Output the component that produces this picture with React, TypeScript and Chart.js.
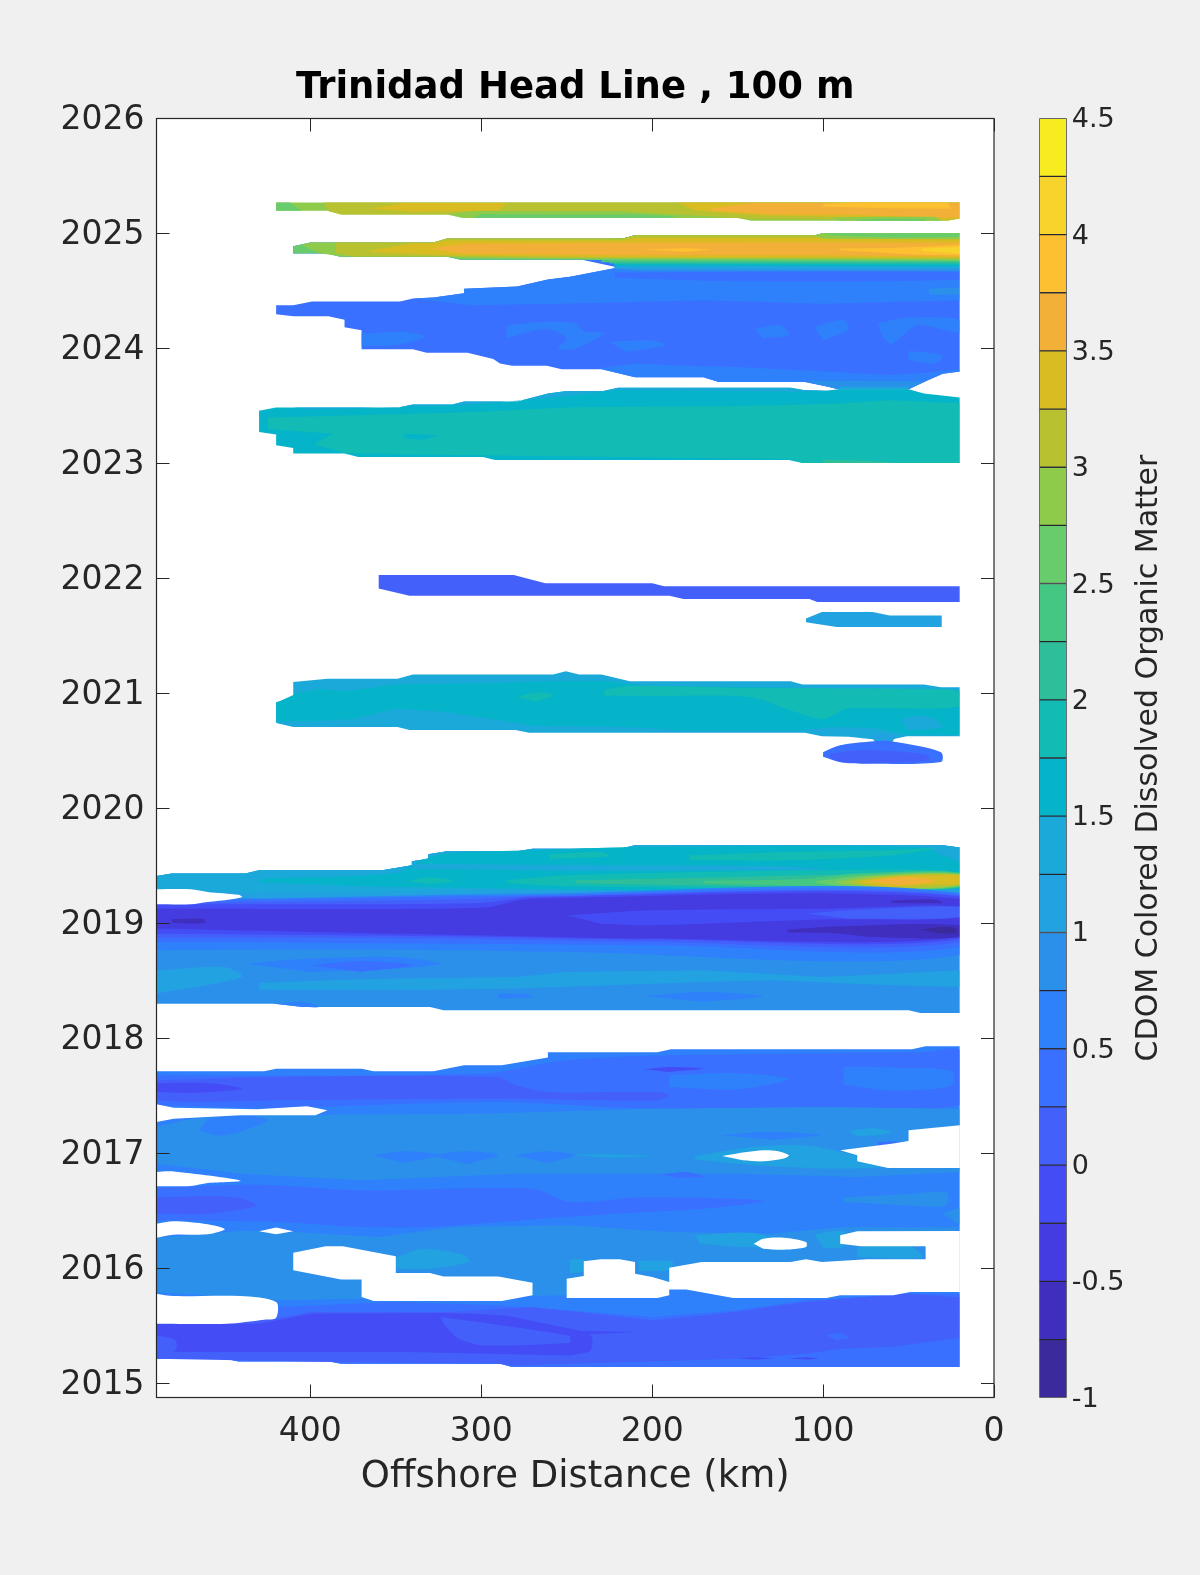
import React, { useEffect, useRef } from "react";
import { Chart, registerables } from "chart.js";

Chart.register(...registerables);

const titleText = "Trinidad Head Line , 100 m";
const xLabel = "Offshore Distance (km)";
const cbLabel = "CDOM Colored Dissolved Organic Matter";
const yearTicks = [2015, 2016, 2017, 2018, 2019, 2020, 2021, 2022, 2023, 2024, 2025, 2026];
const kmTicks = [400, 300, 200, 100, 0];
const cbTicks = [-1, -0.5, 0, 0.5, 1, 1.5, 2, 2.5, 3, 3.5, 4, 4.5];
const levelEdges = [-1, -0.75, -0.5, -0.25, 0, 0.25, 0.5, 0.75, 1, 1.25, 1.5, 1.75, 2, 2.25, 2.5, 2.75, 3, 3.25, 3.5, 3.75, 4, 4.25, 4.5];
const levelColors = ["#3b2a9c", "#402fbe", "#443be0", "#444df5", "#4360fb", "#3a70ff", "#2f80fb", "#2b90ea", "#22a2e0", "#1ba9d9", "#05b4c8", "#12bbb4", "#2ebe9a", "#43c783", "#68cc6c", "#8fcb4b", "#b8c231", "#d9bb22", "#f3b038", "#fdc030", "#f6d42b", "#f6ec20"];
const HOLE = 99;

type Region = [number, number[]];

const bandBTop = [410, 2024.89, 400, 2024.922, 328, 2024.922, 320, 2024.957, 217, 2024.957, 210, 2024.986, 104.5, 2024.986, 100, 2025.003, 20, 2025.003];
const bandBRightTop = [222, 2024.957, 217, 2024.957, 210, 2024.986, 104.5, 2024.986, 100, 2025.003, 20, 2025.003];

const band2025Upper: Region[] = [
  [2.75, [420, 2025.27, 20, 2025.27, 20, 2025.13, 27, 2025.11, 142, 2025.11, 150, 2025.136, 311, 2025.136, 320, 2025.165, 382, 2025.165, 390, 2025.197, 420, 2025.197]],
  [2.5, [420, 2025.27, 412, 2025.27, 405, 2025.197, 420, 2025.197]],
  [3, [392, 2025.27, 20, 2025.27, 20, 2025.135, 27, 2025.125, 100, 2025.125, 142, 2025.125, 150, 2025.135, 190, 2025.17, 220, 2025.195, 305, 2025.195, 320, 2025.165, 382, 2025.165, 390, 2025.197]],
  [3.25, [365, 2025.215, 345, 2025.265, 285, 2025.265, 290, 2025.2, 340, 2025.19]],
  [3.25, [185, 2025.27, 20, 2025.27, 20, 2025.13, 27, 2025.115, 80, 2025.14, 140, 2025.16, 175, 2025.2]],
  [3.5, [165, 2025.22, 140, 2025.265, 20, 2025.265, 20, 2025.14, 30, 2025.14, 90, 2025.165, 130, 2025.165, 165, 2025.2]],
  [3.75, [100, 2025.255, 85, 2025.27, 27, 2025.27, 25, 2025.215, 60, 2025.22, 100, 2025.235]],
  [2.5, [300, 2025.17, 250, 2025.165, 210, 2025.165, 185, 2025.15, 192, 2025.136, 305, 2025.136]],
  [2.75, [95, 2025.14, 70, 2025.145, 35, 2025.145, 30, 2025.11, 90, 2025.11]],
  [2.5, [80, 2025.12, 60, 2025.13, 40, 2025.125, 40, 2025.11, 80, 2025.11]],
];

const blob2024: Region[] = [
  [0.25, [...bandBTop, 20, 2023.8, 30, 2023.78, 41, 2023.71, 50, 2023.645, 91, 2023.645, 97, 2023.667, 110.5, 2023.71, 161, 2023.71, 170, 2023.75, 210, 2023.75, 229.5, 2023.82, 253, 2023.82, 261.6, 2023.85, 282, 2023.85, 289, 2023.87, 293, 2023.91, 308, 2023.963, 332, 2023.963, 340, 2023.993, 370, 2023.993, 370, 2024.16, 380, 2024.185, 380, 2024.25, 389.5, 2024.28, 410, 2024.28, 420, 2024.298, 420, 2024.376, 410, 2024.376, 399, 2024.41, 347.5, 2024.41, 340, 2024.435, 328, 2024.443, 310, 2024.48, 310, 2024.52, 279, 2024.54, 261, 2024.6, 248, 2024.625, 220, 2024.704, 241, 2024.771, 312, 2024.771, 320, 2024.797, 382.5, 2024.797, 390, 2024.826, 410, 2024.826]],
  [0.5, [340, 2024.435, 328, 2024.443, 310, 2024.48, 310, 2024.52, 279, 2024.54, 261, 2024.6, 248, 2024.625, 220, 2024.704, 200, 2024.72, 20, 2024.72, 20, 2024.42, 100, 2024.39, 170, 2024.42, 248, 2024.391, 305, 2024.377]],
  [0.25, [222, 2024.66, 20, 2024.667, 20, 2024.6, 150, 2024.585, 222, 2024.615]],
  [0.5, [370, 2024.13, 345, 2024.145, 333, 2024.1, 350, 2024.03, 370, 2024.02]],
  [0.5, [285, 2024.2, 265, 2024.23, 245, 2024.22, 240, 2024.15, 228, 2024.13, 245, 2024.0, 255, 2024.0, 250, 2024.09, 262, 2024.17, 285, 2024.09]],
  [0.5, [225, 2024.06, 200, 2024.07, 192, 2024.03, 215, 2023.97]],
  [0.5, [140, 2024.17, 125, 2024.2, 120, 2024.12, 135, 2024.09]],
  [0.5, [105, 2024.19, 88, 2024.25, 85, 2024.17, 100, 2024.07]],
  [0.5, [68, 2024.22, 50, 2024.27, 20, 2024.25, 20, 2024.14, 45, 2024.2, 60, 2024.04, 65, 2024.1]],
  [0.5, [50, 2023.98, 30, 2023.94, 35, 2023.87, 50, 2023.9]],
  [0.75, [38, 2024.52, 20, 2024.53, 20, 2024.47, 38, 2024.47]],
  [0.5, [230, 2023.83, 210, 2023.87, 180, 2023.85, 150, 2023.84, 100, 2023.8, 60, 2023.77, 40, 2023.79, 20, 2023.82, 20, 2023.8, 30, 2023.78, 41, 2023.71, 50, 2023.645, 91, 2023.645, 97, 2023.667, 110.5, 2023.71, 161, 2023.71, 170, 2023.75, 210, 2023.75, 229.5, 2023.82]],
  [0.75, [110, 2023.715, 80, 2023.72, 48, 2023.715, 41, 2023.71, 50, 2023.645, 91, 2023.645, 97, 2023.667]],
  [1, [90, 2023.67, 50, 2023.67, 50, 2023.645, 91, 2023.645]],
  [1.25, [88, 2023.655, 52, 2023.655, 50, 2023.645, 91, 2023.645]],
  [0.75, [...bandBRightTop, 20, 2024.672, 205, 2024.672, 222, 2024.69]],
  [1, [...bandBRightTop, 20, 2024.69, 210, 2024.69, 222, 2024.7]],
  [1.25, [...bandBRightTop, 20, 2024.704, 222, 2024.708]],
  [1.5, [...bandBRightTop, 20, 2024.716, 222, 2024.72]],
  [1.75, [...bandBRightTop, 20, 2024.728, 222, 2024.73]],
  [2, [...bandBRightTop, 20, 2024.739, 225, 2024.74]],
  [2.25, [...bandBRightTop, 20, 2024.75, 230, 2024.75]],
  [2.5, [...bandBTop, 20, 2024.762, 220, 2024.765, 241, 2024.771, 312, 2024.771, 320, 2024.797, 382.5, 2024.797, 390, 2024.826, 410, 2024.826]],
  [2.75, [405, 2024.9, 400, 2024.922, 328, 2024.922, 320, 2024.957, 217, 2024.957, 210, 2024.986, 104.5, 2024.986, 100, 2025.003, 20, 2025.003, 20, 2024.77, 220, 2024.78, 312, 2024.785, 320, 2024.8, 382, 2024.8, 395, 2024.83]],
  [3, [385, 2024.922, 328, 2024.922, 320, 2024.957, 217, 2024.957, 210, 2024.986, 104.5, 2024.986, 100, 2025.003, 20, 2025.003, 20, 2024.78, 250, 2024.785, 320, 2024.8, 375, 2024.8, 385, 2024.83]],
  [3.25, [365, 2024.85, 340, 2024.915, 328, 2024.915, 320, 2024.94, 217, 2024.94, 210, 2024.96, 100, 2024.96, 20, 2024.95, 20, 2024.79, 240, 2024.795, 320, 2024.81, 365, 2024.84]],
  [3.5, [330, 2024.87, 310, 2024.91, 217, 2024.92, 100, 2024.925, 20, 2024.92, 20, 2024.8, 100, 2024.81, 220, 2024.81, 310, 2024.825]],
  [3.75, [205, 2024.86, 180, 2024.875, 165, 2024.86, 180, 2024.84]],
  [3.75, [90, 2024.87, 60, 2024.875, 20, 2024.9, 20, 2024.81, 50, 2024.82, 90, 2024.855]],
  [4, [42, 2024.87, 20, 2024.885, 20, 2024.825, 42, 2024.85]],
  [2.75, [104.5, 2024.986, 100, 2025.003, 20, 2025.003, 20, 2024.95, 100, 2024.955]],
  [2.5, [100, 2025.003, 20, 2025.003, 20, 2024.97, 60, 2024.965, 95, 2024.985]],
];

const band2023: Region[] = [
  [1.5, [430, 2023.46, 420, 2023.487, 348.6, 2023.487, 340, 2023.513, 317, 2023.513, 310, 2023.54, 279, 2023.54, 261, 2023.61, 250, 2023.63, 228.6, 2023.63, 220, 2023.66, 119, 2023.66, 111.5, 2023.64, 98, 2023.632, 91, 2023.645, 50, 2023.645, 41, 2023.609, 20, 2023.574, 20, 2023.005, 112, 2023.005, 120, 2023.03, 292, 2023.03, 299, 2023.058, 372, 2023.058, 380, 2023.087, 410, 2023.087, 410, 2023.135, 420, 2023.16, 420, 2023.252, 430, 2023.275]],
  [1.25, [410, 2023.487, 349, 2023.487, 340, 2023.513, 317, 2023.513, 310, 2023.54, 279, 2023.54, 261, 2023.61, 250, 2023.63, 228.6, 2023.63, 220, 2023.66, 119, 2023.66, 111.5, 2023.64, 98, 2023.632, 90, 2023.63, 120, 2023.625, 220, 2023.64, 260, 2023.57, 310, 2023.51, 400, 2023.47]],
  [1.75, [425, 2023.4, 345, 2023.43, 300, 2023.45, 248, 2023.49, 150, 2023.5, 92, 2023.52, 60, 2023.55, 20, 2023.525, 20, 2023.005, 112, 2023.005, 120, 2023.04, 293, 2023.07, 379, 2023.09, 398, 2023.17, 387, 2023.26, 425, 2023.3]],
  [1.5, [345, 2023.26, 325, 2023.245, 335, 2023.205, 345, 2023.225]],
  [2, [100, 2023.035, 75, 2023.025, 55, 2023.005, 100, 2023.005]],
];

const band2022: Region[] = [
  [0, [360, 2022.03, 281, 2022.03, 262.5, 2021.96, 200, 2021.96, 193, 2021.933, 20, 2021.933, 20, 2021.797, 103.4, 2021.797, 108, 2021.823, 181.6, 2021.823, 190, 2021.85, 342, 2021.85, 360, 2021.913]],
  [1, [110, 2021.652, 100.7, 2021.71, 71, 2021.71, 61, 2021.68, 30.6, 2021.68, 30.6, 2021.58, 92, 2021.58, 110, 2021.62]],
];

const band2021: Region[] = [
  [1.25, [420, 2020.927, 410, 2020.948, 410, 2021.1, 390, 2021.13, 349, 2021.13, 340, 2021.165, 258, 2021.165, 250.5, 2021.194, 242.7, 2021.165, 229.7, 2021.165, 213, 2021.107, 119, 2021.107, 112, 2021.078, 41, 2021.078, 31, 2021.055, 20, 2021.055, 20, 2020.63, 51, 2020.63, 60, 2020.6, 70, 2020.6, 85, 2020.625, 100.7, 2020.63, 110.6, 2020.66, 272, 2020.66, 280, 2020.684, 342, 2020.684, 349, 2020.71, 410, 2020.71, 420, 2020.745]],
  [1.5, [420, 2020.76, 420, 2020.92, 408, 2021, 395, 2021.04, 380, 2021.02, 350, 2021.08, 300, 2021.09, 255, 2021.11, 225, 2021.11, 205, 2021.07, 119, 2021.05, 112, 2021.03, 20, 2021.02, 20, 2020.64, 51, 2020.64, 70, 2020.7, 95, 2020.71, 115, 2020.68, 180, 2020.68, 215, 2020.71, 270, 2020.72, 285, 2020.76, 320, 2020.84, 350, 2020.87, 375, 2020.78, 400, 2020.76]],
  [1.25, [55, 2020.77, 45, 2020.81, 35, 2020.78, 30, 2020.71, 50, 2020.68]],
  [1.75, [228, 2021.03, 214, 2021.065, 143, 2021.05, 44, 2021.04, 20, 2021.015, 20, 2020.885, 86, 2020.87, 100, 2020.78, 120, 2020.86, 143, 2020.97, 200, 2020.98, 228, 2020.98]],
  [1.75, [279, 2020.97, 268, 2021.01, 258, 2020.985, 268, 2020.93]],
  [1, [72, 2020.64, 58, 2020.64, 61, 2020.56, 69, 2020.56]],
  [0.25, [100, 2020.49, 90, 2020.55, 70, 2020.585, 60, 2020.585, 31, 2020.49, 31, 2020.405, 75, 2020.39, 89, 2020.4, 100, 2020.45]],
  [0, [96, 2020.48, 75, 2020.51, 40, 2020.47, 38, 2020.42, 75, 2020.395, 89, 2020.405, 96, 2020.44]],
];

const fullBand2019: Region[] = [
  [0.75, [490, 2019.414, 481, 2019.435, 438, 2019.435, 430, 2019.464, 358, 2019.464, 340.6, 2019.507, 340.6, 2019.542, 331, 2019.565, 331, 2019.603, 320, 2019.629, 279, 2019.629, 270, 2019.652, 219, 2019.652, 210, 2019.681, 30, 2019.681, 20, 2019.661, 20, 2018.223, 43, 2018.223, 50, 2018.246, 322, 2018.246, 330, 2018.275, 404, 2018.275, 421.7, 2018.304, 490, 2018.304]],
  [1, [490, 2019.414, 481, 2019.435, 438, 2019.435, 430, 2019.464, 358, 2019.464, 340.6, 2019.507, 340.6, 2019.542, 331, 2019.565, 331, 2019.603, 320, 2019.629, 279, 2019.629, 270, 2019.652, 219, 2019.652, 210, 2019.681, 30, 2019.681, 20, 2019.661, 20, 2019.272, 280, 2019.262, 340, 2019.246, 430, 2019.22, 490, 2019.26]],
  [1.25, [490, 2019.414, 481, 2019.435, 438, 2019.435, 430, 2019.464, 358, 2019.464, 340.6, 2019.507, 340.6, 2019.542, 331, 2019.565, 331, 2019.603, 320, 2019.629, 279, 2019.629, 270, 2019.652, 219, 2019.652, 210, 2019.681, 30, 2019.681, 20, 2019.661, 20, 2019.296, 280, 2019.29, 340, 2019.28, 430, 2019.27, 490, 2019.29]],
  [1.5, [430, 2019.39, 350, 2019.44, 335, 2019.55, 320, 2019.61, 270, 2019.638, 210, 2019.667, 43, 2019.667, 30, 2019.594, 20, 2019.522, 20, 2019.304, 350, 2019.319, 430, 2019.36]],
  [1.25, [340, 2019.52, 250, 2019.51, 130, 2019.5, 100, 2019.47, 240, 2019.46, 340, 2019.475]],
  [1.75, [178, 2019.594, 120, 2019.623, 60, 2019.638, 33, 2019.661, 60, 2019.594, 120, 2019.55, 178, 2019.551]],
  [1.75, [260, 2019.603, 230, 2019.623, 225, 2019.586, 260, 2019.565]],
  [1.75, [343, 2019.37, 330, 2019.4, 316, 2019.37, 330, 2019.345]],
  [1.75, [285, 2019.377, 250, 2019.42, 100, 2019.464, 20, 2019.449, 20, 2019.313, 100, 2019.304, 250, 2019.325, 285, 2019.354]],
  [2, [245, 2019.377, 150, 2019.406, 60, 2019.435, 20, 2019.441, 20, 2019.319, 60, 2019.304, 150, 2019.325, 245, 2019.348]],
  [2.25, [170, 2019.371, 110, 2019.391, 80, 2019.435, 20, 2019.441, 20, 2019.319, 80, 2019.304, 110, 2019.325, 170, 2019.348]],
  [2.5, [104, 2019.368, 75, 2019.42, 20, 2019.435, 20, 2019.325, 75, 2019.304, 104, 2019.354]],
  [2.75, [92, 2019.368, 70, 2019.414, 20, 2019.43, 20, 2019.33, 70, 2019.31, 92, 2019.354]],
  [3, [84, 2019.368, 65, 2019.41, 20, 2019.425, 20, 2019.336, 65, 2019.313, 84, 2019.354]],
  [3.25, [78, 2019.368, 60, 2019.406, 35, 2019.42, 20, 2019.414, 20, 2019.348, 35, 2019.342, 60, 2019.325, 78, 2019.354]],
  [3.5, [74, 2019.368, 55, 2019.406, 36, 2019.386, 36, 2019.362, 55, 2019.333]],
  [0.5, [490, 2019.217, 430, 2019.217, 280, 2019.255, 20, 2019.267, 20, 2018.725, 250, 2018.754, 320, 2018.768, 400, 2018.774, 490, 2018.768]],
  [0.25, [490, 2019.203, 430, 2019.209, 280, 2019.243, 20, 2019.255, 20, 2018.797, 200, 2018.812, 320, 2018.826, 490, 2018.841]],
  [0, [490, 2019.188, 430, 2019.188, 300, 2019.217, 270, 2019.238, 20, 2019.246, 20, 2018.841, 200, 2018.841, 320, 2018.87, 490, 2018.878]],
  [-0.25, [490, 2019.168, 430, 2019.168, 300, 2019.18, 270, 2019.232, 20, 2019.238, 20, 2018.867, 200, 2018.861, 320, 2018.89, 490, 2018.913]],
  [-0.5, [490, 2019.13, 300, 2019.139, 270, 2019.217, 20, 2019.217, 20, 2018.884, 200, 2018.87, 300, 2018.899, 400, 2018.928, 490, 2018.957]],
  [-0.25, [250, 2019.072, 200, 2019.116, 100, 2019.13, 20, 2019.151, 20, 2019.052, 100, 2019.035, 200, 2018.986, 230, 2019]],
  [0, [110, 2019.087, 85, 2019.116, 20, 2019.145, 20, 2019.058, 85, 2019.043]],
  [-0.75, [121, 2018.948, 90, 2018.977, 20, 2018.986, 20, 2018.884, 70, 2018.884, 90, 2018.913, 121, 2018.922]],
  [-0.75, [60, 2019.2, 35, 2019.21, 30, 2019.18, 60, 2019.18]],
  [-0.75, [481, 2019.04, 462, 2019.04, 462, 2019.005, 481, 2019.005]],
  [-1, [43, 2018.948, 30, 2018.971, 22, 2018.957, 22, 2018.919, 30, 2018.913]],
  [1, [490, 2018.594, 450, 2018.623, 440, 2018.536, 490, 2018.391]],
  [1, [430, 2018.484, 390, 2018.507, 350, 2018.522, 280, 2018.536, 250, 2018.58, 170, 2018.594, 100, 2018.536, 60, 2018.565, 20, 2018.594, 20, 2018.449, 60, 2018.464, 130, 2018.507, 170, 2018.493, 280, 2018.435, 350, 2018.42, 430, 2018.426]],
  [0.5, [437, 2018.652, 400, 2018.696, 350, 2018.71, 324, 2018.652, 350, 2018.609, 400, 2018.58]],
  [0.25, [400, 2018.638, 370, 2018.675, 340, 2018.638, 370, 2018.58]],
  [0.5, [205, 2018.371, 170, 2018.406, 135, 2018.368, 170, 2018.319]],
  [0.5, [420, 2018.304, 403, 2018.319, 395, 2018.275, 405, 2018.275]],
  [0.5, [290, 2018.39, 275, 2018.39, 270, 2018.36, 290, 2018.35]],
  [HOLE, [490, 2019.299, 470, 2019.299, 460, 2019.275, 442, 2019.25, 440, 2019.232, 447, 2019.21, 460, 2019.188, 470, 2019.168, 490, 2019.168]],
];

const band2017Upper: Region[] = [
  [0.5, [490, 2017.716, 427, 2017.716, 420, 2017.739, 370, 2017.739, 363, 2017.716, 328, 2017.716, 310, 2017.768, 288, 2017.768, 261, 2017.835, 261, 2017.881, 197, 2017.881, 189, 2017.907, 48, 2017.907, 40, 2017.933, 20, 2017.933, 20, 2015.145, 282, 2015.145, 289, 2015.174, 382, 2015.174, 389, 2015.194, 442, 2015.194, 450, 2015.217, 490, 2015.217]],
  [0.25, [490, 2017.68, 300, 2017.696, 250, 2017.812, 190, 2017.855, 40, 2017.884, 20, 2017.899, 20, 2017.42, 200, 2017.391, 290, 2017.449, 420, 2017.4, 490, 2017.42]],
  [0.5, [88, 2017.754, 60, 2017.75, 25, 2017.72, 25, 2017.59, 60, 2017.55, 88, 2017.6]],
  [0.5, [190, 2017.68, 150, 2017.7, 120, 2017.65, 150, 2017.56, 190, 2017.58]],
  [0, [490, 2017.638, 420, 2017.667, 290, 2017.667, 280, 2017.594, 260, 2017.536, 196, 2017.536, 190, 2017.507, 197, 2017.464, 290, 2017.478, 420, 2017.464, 470, 2017.449, 490, 2017.464]],
  [-0.25, [490, 2017.614, 460, 2017.614, 440, 2017.565, 470, 2017.528, 490, 2017.536]],
  [-0.25, [205, 2017.733, 190, 2017.754, 170, 2017.74, 190, 2017.71]],
  [0.25, [38, 2017.52, 25, 2017.5, 25, 2017.45, 60, 2017.44, 70, 2017.5]],
];

const band2017Middle: Region[] = [
  [0.75, [490, 2017.232, 470, 2017.304, 440, 2017.333, 300, 2017.348, 200, 2017.391, 100, 2017.406, 20, 2017.391, 20, 2016.841, 80, 2016.797, 150, 2016.826, 280, 2016.826, 370, 2016.768, 440, 2016.826, 490, 2016.913]],
  [0.5, [460, 2017.304, 440, 2017.333, 425, 2017.29, 450, 2017.159, 465, 2017.2]],
  [0.5, [364, 2016.986, 345, 2017.02, 325, 2016.986, 345, 2016.92]],
  [0.5, [330, 2016.986, 308, 2017.02, 290, 2016.986, 308, 2016.91]],
  [0.5, [280, 2016.986, 262, 2017.02, 245, 2016.986, 262, 2016.92]],
  [0.5, [160, 2017.16, 130, 2017.19, 102, 2017.16, 130, 2017.12]],
  [1, [175, 2016.98, 140, 2017.06, 110, 2017.07, 85, 2017.0, 62, 2016.9, 90, 2016.87, 140, 2016.9, 175, 2016.95]],
  [1, [248, 2016.99, 225, 2016.995, 200, 2016.98, 225, 2016.965]],
  [1, [85, 2017.2, 70, 2017.22, 60, 2017.18, 80, 2017.15]],
  [0.25, [68, 2017.1, 55, 2017.1, 55, 2017.04, 68, 2017.06]],
  [0.25, [195, 2016.82, 180, 2016.84, 170, 2016.8, 185, 2016.79]],
  [0.5, [490, 2016.85, 440, 2016.74, 300, 2016.7, 200, 2016.65, 100, 2016.63, 88, 2016.6, 40, 2016.5, 20, 2016.4, 300, 2016.38, 490, 2016.3]],
  [0.75, [88, 2016.62, 50, 2016.65, 28, 2016.66, 28, 2016.55, 50, 2016.55, 88, 2016.58]],
  [0.75, [30, 2016.48, 20, 2016.52, 20, 2016.38]],
  [0.25, [490, 2016.704, 430, 2016.729, 370, 2016.681, 270, 2016.696, 248, 2016.58, 205, 2016.62, 135, 2016.59, 170, 2016.52, 230, 2016.47, 330, 2016.362, 370, 2016.362, 420, 2016.406, 490, 2016.42]],
  [0, [490, 2016.623, 445, 2016.623, 432, 2016.55, 460, 2016.478, 490, 2016.478]],
  [0.75, [490, 2016.27, 440, 2016.33, 410, 2016.319, 360, 2016.275, 315, 2016.362, 248, 2016.377, 190, 2016.319, 130, 2016.304, 90, 2016.36, 20, 2016.36, 40, 2016.08, 100, 2016.058, 190, 2015.884, 210, 2015.82, 250, 2015.768, 370, 2015.739, 420, 2015.725, 490, 2015.797]],
  [1, [351, 2016.09, 335, 2016.17, 310, 2016.12, 307, 2016.06, 330, 2016.0, 350, 2016.0]],
  [1, [248, 2016.08, 240, 2016.08, 240, 2015.98, 248, 2015.96]],
  [1, [208, 2016.07, 188, 2016.06, 190, 2015.99, 208, 2015.98]],
  [1, [175, 2016.29, 140, 2016.31, 120, 2016.2, 150, 2016.19, 172, 2016.22]],
  [1, [105, 2016.3, 88, 2016.32, 88, 2016.19, 100, 2016.18]],
  [1, [80, 2016.19, 50, 2016.2, 42, 2016.1, 80, 2016.1]],
];

const band2015: Region[] = [
  [0.25, [420, 2015.667, 350, 2015.71, 290, 2015.681, 250, 2015.638, 200, 2015.58, 150, 2015.638, 110, 2015.725, 90, 2015.739, 50, 2015.783, 20, 2015.783, 20, 2015.145, 282, 2015.145, 289, 2015.174, 382, 2015.174, 389, 2015.194, 442, 2015.194, 450, 2015.217, 490, 2015.217, 490, 2015.551]],
  [0, [490, 2015.551, 420, 2015.565, 400, 2015.623, 320, 2015.623, 270, 2015.667, 200, 2015.551, 160, 2015.609, 110, 2015.71, 90, 2015.739, 50, 2015.783, 20, 2015.75, 20, 2015.377, 60, 2015.32, 90, 2015.304, 110, 2015.261, 150, 2015.217, 282, 2015.159, 289, 2015.174, 382, 2015.188, 442, 2015.203, 490, 2015.217]],
  [0.25, [20, 2015.4, 55, 2015.33, 75, 2015.28, 150, 2015.2, 100, 2015.2, 20, 2015.16]],
  [-0.25, [490, 2015.522, 430, 2015.522, 400, 2015.609, 324, 2015.614, 304, 2015.609, 285, 2015.59, 242, 2015.46, 209, 2015.45, 236, 2015.43, 248, 2015.42, 236, 2015.28, 248, 2015.246, 344, 2015.275, 480, 2015.275, 479, 2015.377, 490, 2015.42]],
  [0, [324, 2015.58, 304, 2015.54, 242, 2015.4, 242, 2015.362, 298, 2015.333, 313, 2015.391, 322, 2015.52]],
  [-0.25, [248, 2015.42, 236, 2015.42, 236, 2015.29, 248, 2015.25]],
  [0, [490, 2015.42, 479, 2015.38, 479, 2015.29, 490, 2015.26]],
  [0.25, [98, 2015.42, 90, 2015.44, 85, 2015.4, 92, 2015.38]],
  [-0.25, [150, 2015.22, 140, 2015.23, 130, 2015.22, 140, 2015.21]],
  [-0.25, [120, 2015.22, 110, 2015.23, 103, 2015.22, 110, 2015.21]],
];

const dataHoles: Region[] = [
  [HOLE, [490, 2017.429, 480, 2017.4, 431, 2017.386, 402, 2017.412, 390, 2017.377, 397, 2017.333, 441, 2017.333, 480, 2017.304, 490, 2017.275]],
  [HOLE, [490, 2016.841, 481, 2016.846, 441, 2016.765, 460, 2016.745, 470, 2016.719, 490, 2016.716]],
  [HOLE, [490, 2016.391, 480, 2016.412, 460, 2016.386, 450, 2016.342, 460, 2016.299, 480, 2016.296, 490, 2016.27]],
  [HOLE, [430, 2016.325, 420, 2016.357, 410, 2016.325, 420, 2016.299]],
  [HOLE, [490, 2015.783, 480, 2015.762, 441, 2015.762, 420, 2015.71, 420, 2015.574, 427, 2015.557, 449, 2015.522, 490, 2015.522]],
  [HOLE, [410, 2016.139, 391, 2016.194, 381, 2016.194, 350, 2016.107, 350, 2015.962, 330, 2015.962, 322, 2015.933, 290, 2015.933, 270, 2015.878, 270, 2015.768, 288, 2015.719, 363, 2015.719, 370, 2015.754, 370, 2015.907, 382, 2015.907, 410, 2015.986]],
  [HOLE, [20, 2016.328, 80, 2016.325, 90, 2016.29, 90, 2016.217, 78, 2016.194, 40, 2016.194, 40, 2016.081, 74, 2016.081, 100.7, 2016.058, 110, 2016.081, 119, 2016.058, 171, 2016.058, 190, 2016.009, 190, 2015.884, 200, 2015.928, 210, 2015.957, 210, 2016.058, 219, 2016.081, 230, 2016.081, 240, 2016.064, 240, 2015.936, 250, 2015.913, 250, 2015.745, 197, 2015.745, 190, 2015.768, 190, 2015.82, 180, 2015.82, 152.6, 2015.745, 98, 2015.745, 90, 2015.768, 59, 2015.768, 49, 2015.797, 20, 2015.797]],
  [HOLE, [20, 2017.246, 50, 2017.203, 50, 2017.11, 60, 2017.087, 90, 2017.029, 80, 2016.986, 80, 2016.933, 62, 2016.875, 20, 2016.875]],
  [HOLE, [159, 2016.98, 144.6, 2017.014, 135, 2017.029, 127, 2017.023, 120, 2016.986, 123, 2016.957, 135, 2016.933, 147, 2016.942]],
  [HOLE, [140.6, 2016.217, 135, 2016.261, 123, 2016.27, 110, 2016.232, 110, 2016.188, 123, 2016.165, 135, 2016.174]],
  [HOLE, [0, 2014.88, 20, 2014.88, 20, 2026, 0, 2026]],
];

const regionGroups = [band2025Upper, blob2024, band2023, band2022, band2021, fullBand2019, band2017Upper, band2017Middle, band2015, dataHoles];
const softGroups = [band2021, fullBand2019, band2017Upper, band2017Middle, band2015];

const FONT = "'DejaVu Sans'";
const INK = "#262626";

function colorOf(level: number) {
  if (level === HOLE) return "#ffffff";
  return levelColors[levelEdges.indexOf(level)];
}

function curveOf(group: Region[], region: Region) {
  const [level, flat] = region;
  const count = flat.length / 2;
  if (softGroups.includes(group) && group[0] !== region && count <= 14) return 0.3;
  if (group === blob2024 && group[0] !== region && level <= 0.5 && count <= 10) return 0.3;
  if (group === dataHoles && count <= 8 && count > 4) return 0.3;
  return 0;
}

const regions = regionGroups.flatMap((group) => group.map((region) => ({ region, tension: curveOf(group, region) })));
const polygonSets = regions.map(({ region: [level, flat], tension }, i) => {
  const data: { x: number; y: number }[] = [];
  for (let k = 0; k < flat.length; k += 2) data.push({ x: flat[k], y: flat[k + 1] });
  return {
    label: "L" + level,
    data,
    showLine: true,
    fill: "shape",
    borderWidth: 0,
    pointRadius: 0,
    tension,
    backgroundColor: colorOf(level),
    order: regions.length - i,
  };
});

const framePlugin = {
  id: "frame",
  beforeDraw(chart: any) {
    const a = chart.chartArea;
    chart.ctx.save();
    chart.ctx.fillStyle = "#ffffff";
    chart.ctx.fillRect(a.left, a.top, a.width, a.height);
    chart.ctx.restore();
  },
  afterDraw(chart: any) {
    const a = chart.chartArea;
    const c = chart.ctx;
    const len = 13;
    c.save();
    c.strokeStyle = INK;
    c.lineWidth = 1;
    c.beginPath();
    for (const t of yearTicks) {
      const y = Math.floor(chart.scales.y.getPixelForValue(t)) + 0.5;
      c.moveTo(a.left, y);
      c.lineTo(a.left + len, y);
      c.moveTo(a.right, y);
      c.lineTo(a.right - len, y);
    }
    for (const t of kmTicks) {
      const x = Math.floor(chart.scales.x.getPixelForValue(t)) + 0.5;
      c.moveTo(x, a.bottom);
      c.lineTo(x, a.bottom - len);
      c.moveTo(x, a.top);
      c.lineTo(x, a.top + len);
    }
    c.stroke();
    c.lineWidth = 1.2;
    c.strokeRect(a.left, a.top, a.width, a.height);
    c.restore();
  },
};

const cbLabelPlugin = {
  id: "cbLabel",
  afterDraw(chart: any) {
    const c = chart.ctx;
    const a = chart.chartArea;
    c.save();
    c.translate(a.right + 83, (a.top + a.bottom) / 2);
    c.rotate(-Math.PI / 2);
    c.font = `30px ${FONT}`;
    c.fillStyle = INK;
    c.textAlign = "center";
    c.textBaseline = "middle";
    c.fillText(cbLabel, 0, 0);
    c.restore();
  },
};

export default function App() {
  const mainRef = useRef<HTMLCanvasElement>(null);
  const barRef = useRef<HTMLCanvasElement>(null);

  useEffect(() => {
    const main = new Chart(mainRef.current as any, {
      type: "scatter",
      data: { datasets: polygonSets as any },
      plugins: [framePlugin],
      options: {
        responsive: false,
        animation: false,
        devicePixelRatio: 1,
        layout: { padding: { top: 0, left: 0, right: 206, bottom: 0 } },
        plugins: {
          legend: { display: false },
          tooltip: { enabled: false },
          title: {
            display: true,
            text: titleText,
            color: "#000000",
            fullSize: false,
            font: { family: FONT, size: 37, weight: "bold", lineHeight: 1.2 },
            padding: { top: 66.2, bottom: 7.9 },
          },
        },
        scales: {
          x: {
            type: "linear",
            reverse: true,
            min: 0,
            max: 490,
            afterBuildTicks: (s: any) => { s.ticks = kmTicks.map((value) => ({ value })); },
            afterFit: (s: any) => { s.height = 177.5; },
            grid: { display: false, drawTicks: false },
            border: { display: false },
            ticks: { font: { family: FONT, size: 33 }, color: INK, padding: 15, maxRotation: 0, autoSkip: false },
            title: { display: true, text: xLabel, color: INK, font: { family: FONT, size: 37, lineHeight: 1.2 }, padding: { top: 0, bottom: 75.8 } },
          },
          y: {
            type: "linear",
            min: 2014.88,
            max: 2026,
            afterBuildTicks: (s: any) => { s.ticks = yearTicks.map((value) => ({ value })); },
            afterFit: (s: any) => { s.width = 156.5; },
            grid: { display: false, drawTicks: false },
            border: { display: false },
            ticks: { font: { family: FONT, size: 33 }, color: INK, padding: 12, labelOffset: 2, autoSkip: false, callback: (v: any) => String(v) },
          },
        },
      } as any,
    });

    const bar = new Chart(barRef.current as any, {
      type: "bar",
      data: {
        labels: [""],
        datasets: levelColors.map((color, i) => ({
          label: String(levelEdges[i]),
          data: [[levelEdges[i], levelEdges[i + 1]]],
          backgroundColor: color,
          borderColor: "rgba(20,20,30,0.85)",
          borderWidth: 1,
          borderSkipped: false,
          grouped: false,
          barPercentage: 1,
          categoryPercentage: 1,
        })) as any,
      },
      plugins: [cbLabelPlugin],
      options: {
        responsive: false,
        animation: false,
        devicePixelRatio: 1,
        layout: { padding: { top: 118.3, left: 9.3, right: 0, bottom: 177.3 } },
        plugins: { legend: { display: false }, tooltip: { enabled: false } },
        scales: {
          x: { display: false },
          y: {
            type: "linear",
            position: "right",
            min: -1,
            max: 4.5,
            afterBuildTicks: (s: any) => { s.ticks = cbTicks.map((value) => ({ value })); },
            afterFit: (s: any) => { s.width = 133.3; },
            grid: { display: false, drawTicks: false },
            border: { display: false },
            ticks: { font: { family: FONT, size: 27 }, color: INK, padding: 5, labelOffset: 2, autoSkip: false, callback: (v: any) => String(v) },
          },
        },
      } as any,
    });

    return () => {
      main.destroy();
      bar.destroy();
    };
  }, []);

  return (
    <div style={{ position: "absolute", left: 0, top: 0, width: 1200, height: 1575, background: "#f0f0f0", overflow: "hidden" }}>
      <canvas ref={mainRef} width={1200} height={1575} style={{ position: "absolute", left: 0, top: 0, display: "block" }} />
      <canvas ref={barRef} width={170} height={1575} style={{ position: "absolute", left: 1030, top: 0, display: "block" }} />
    </div>
  );
}
